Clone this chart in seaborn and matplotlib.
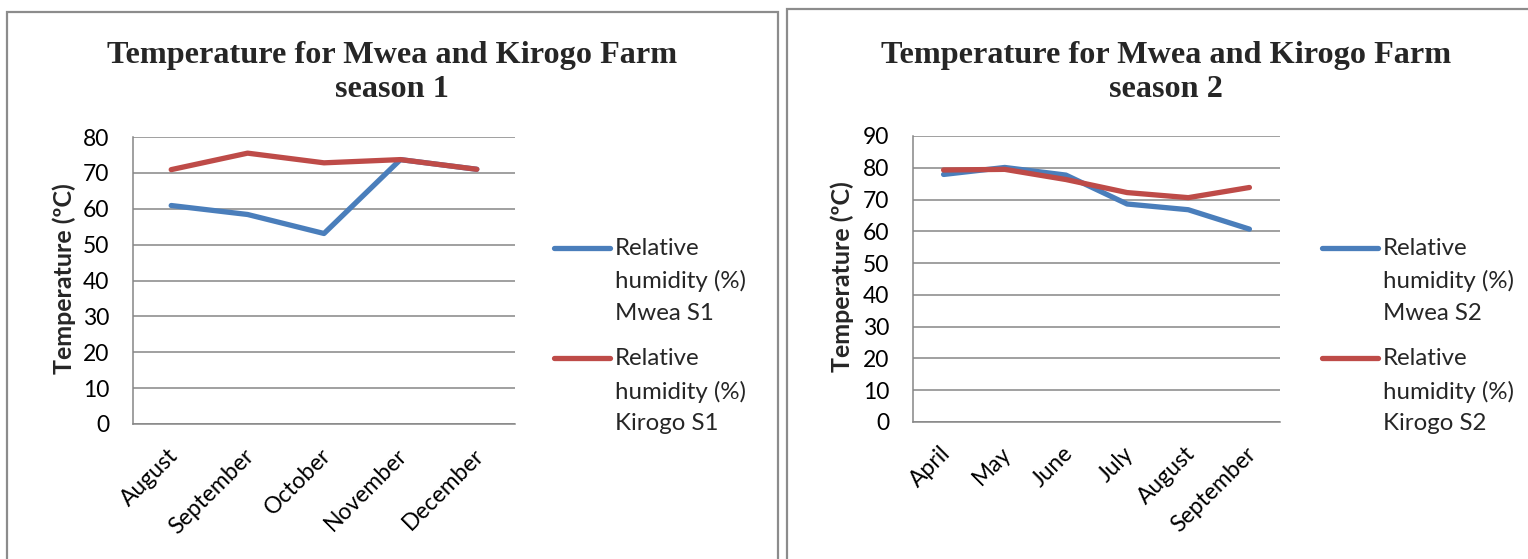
import numpy as np
import pandas as pd
import matplotlib
matplotlib.use("Agg")
import matplotlib.pyplot as plt
import seaborn as sns
from matplotlib.legend_handler import HandlerLine2D
from matplotlib.patches import Rectangle
from matplotlib.transforms import ScaledTranslation

# Season 1 readings
months_s1 = ["August", "September", "October", "November", "December"]
mwea_s1 = [60.9, 58.4, 53.1, 73.7, 71.0]
kirogo_s1 = [70.9, 75.5, 72.8, 73.7, 71.0]
series_s1 = ["Relative\nhumidity (%)\nMwea S1", "Relative\nhumidity (%)\nKirogo S1"]

# Season 2 readings
months_s2 = ["April", "May", "June", "July", "August", "September"]
mwea_s2 = [77.9, 80.1, 77.7, 68.6, 66.8, 60.7]
kirogo_s2 = [79.3, 79.5, 76.3, 72.2, 70.6, 73.8]
series_s2 = ["Relative\nhumidity (%)\nMwea S2", "Relative\nhumidity (%)\nKirogo S2"]

titles = ["Temperature for Mwea and Kirogo Farm\nseason 1",
          "Temperature for Mwea and Kirogo Farm\nseason 2"]
ylabel = "Temperature (ºC)"

BLUE = "#4A7EBB"
RED = "#BE4B48"
GRID = "#868686"

sns.set_theme(style="white")
plt.rcParams["font.family"] = ["Lato", "DejaVu Sans"]

W, H = 1528, 559
fig = plt.figure(figsize=(W / 100, H / 100), dpi=100)


class TopLineHandler(HandlerLine2D):
    """Legend line aligned with the first line of a multi-line label."""
    def __init__(self, shift, **kw):
        super().__init__(**kw)
        self.shift = shift

    def create_artists(self, legend, orig_handle, xdescent, ydescent,
                       width, height, fontsize, trans):
        arts = super().create_artists(legend, orig_handle, xdescent, ydescent,
                                      width, height, fontsize, trans)
        for a in arts:
            a.set_ydata(np.asarray(a.get_ydata()) + self.shift)
        return arts


def px(x0, y0, x1, y1):
    return [x0 / W, 1 - y1 / H, (x1 - x0) / W, (y1 - y0) / H]


def panel(box, months, mwea, kirogo, names, ymax, title, title_x,
          ylab_x, legend_x, frame):
    fig.patches.append(Rectangle((frame[0] / W, 1 - frame[3] / H),
                                 (frame[2] - frame[0]) / W,
                                 (frame[3] - frame[1]) / H,
                                 transform=fig.transFigure, fill=False,
                                 edgecolor="#8C8C8C", linewidth=1.6))
    ax = fig.add_axes(px(*box))
    df = pd.DataFrame({
        "month": months * 2,
        "value": list(mwea) + list(kirogo),
        "series": [names[0]] * len(months) + [names[1]] * len(months),
    })
    sns.lineplot(data=df, x="month", y="value", hue="series",
                 palette=[BLUE, RED], linewidth=3.8, sort=False, ax=ax,
                 solid_capstyle="round")
    ax.set_xlim(-0.5, len(months) - 0.5)
    ax.set_ylim(0, ymax)
    ax.set_yticks(np.arange(0, ymax + 1, 10))
    ax.yaxis.grid(True, color=GRID, linewidth=1.1)
    ax.set_axisbelow(True)
    for s in ["top", "right"]:
        ax.spines[s].set_visible(False)
    for s in ["left", "bottom"]:
        ax.spines[s].set_color(GRID)
        ax.spines[s].set_linewidth(1.1)
    ax.tick_params(axis="both", length=0, labelsize=16.5, colors="black")
    ax.tick_params(axis="y", pad=17)
    ax.tick_params(axis="x", pad=15)
    shift = ScaledTranslation(-4 / 100, 0, fig.dpi_scale_trans)
    for lab in ax.get_xticklabels():
        lab.set_rotation(45)
        lab.set_ha("right")
        lab.set_va("top")
        lab.set_rotation_mode("anchor")
        lab.set_transform(lab.get_transform() + shift)
    ax.set_xlabel("")
    ax.set_ylabel("")
    fig.text(ylab_x / W, 1 - ((box[1] + box[3]) / 2 - 2) / H, ylabel,
             rotation=90, ha="center", va="center",
             fontsize=18, fontweight="bold")
    fig.text(title_x / W, 1 - 41 / H, title, ha="center", va="top",
             family="Liberation Serif", fontweight="bold", fontsize=23.2,
             linespacing=1.24)
    handles, labels = ax.get_legend_handles_labels()
    ax.get_legend().remove()
    leg = ax.legend(handles, labels, loc="upper left",
                    bbox_to_anchor=(legend_x / W, 1 - 238 / H),
                    bbox_transform=fig.transFigure, frameon=False,
                    fontsize=17.3, borderpad=0, borderaxespad=0,
                    handlelength=2.33, handletextpad=0.2, labelspacing=1.0,
                    handler_map={h: TopLineHandler(shift=24) for h in handles})
    for t in leg.get_texts():
        t.set_linespacing(1.63)
    return ax


panel((133, 137, 515, 424), months_s1, mwea_s1, kirogo_s1, series_s1,
      80, titles[0], 392, 64, 554, (7, 12, 778, 600))
panel((913, 136, 1280, 422), months_s2, mwea_s2, kirogo_s2, series_s2,
      90, titles[1], 1166, 842, 1322, (787, 9, 1600, 600))

fig.savefig("out.png", dpi=100)
